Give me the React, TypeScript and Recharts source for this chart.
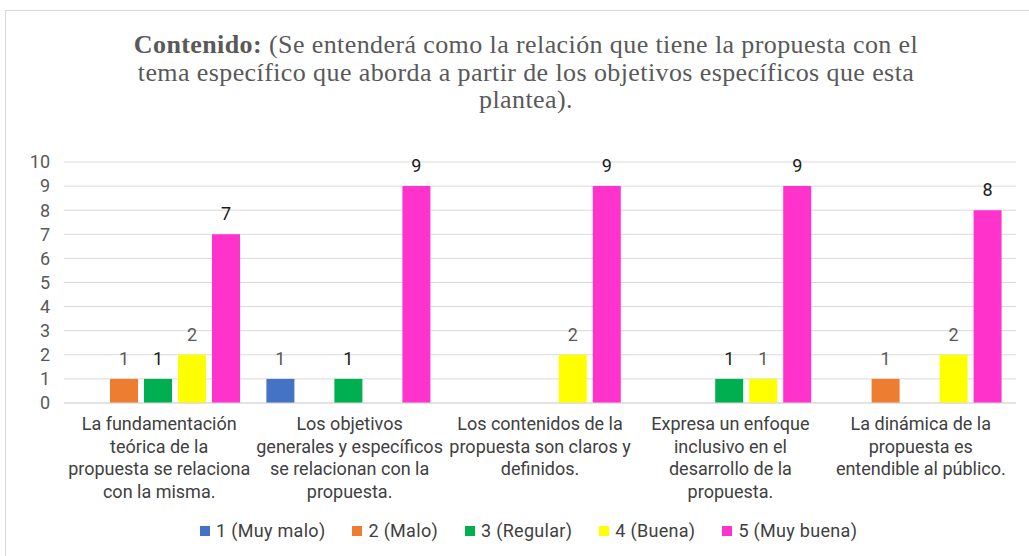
import React from "react";
import {
  Bar,
  BarChart,
  CartesianGrid,
  LabelList,
  XAxis,
  YAxis,
} from "recharts";

const categories = [
  "La fundamentación\nteórica de la\npropuesta se relaciona\ncon la misma.",
  "Los objetivos\ngenerales y específicos\nse relacionan con la\npropuesta.",
  "Los contenidos de la\npropuesta son claros y\ndefinidos.",
  "Expresa un enfoque\ninclusivo en el\ndesarrollo de la\npropuesta.",
  "La dinámica de la\npropuesta es\nentendible al público.",
];

const muyMalo = [0, 1, 0, 0, 0];
const malo = [1, 0, 0, 0, 1];
const regular = [1, 1, 0, 1, 0];
const buena = [2, 0, 2, 1, 2];
const muyBuena = [7, 9, 9, 9, 8];

const yTicks = [0, 1, 2, 3, 4, 5, 6, 7, 8, 9, 10];

const series = [
  { key: "muyMalo", name: "1 (Muy malo)", color: "#4472C4", labelColor: "#595959" },
  { key: "malo", name: "2 (Malo)", color: "#ED7D31", labelColor: "#595959" },
  { key: "regular", name: "3 (Regular)", color: "#00B050", labelColor: "#1a1a1a" },
  { key: "buena", name: "4 (Buena)", color: "#FFFF00", labelColor: "#595959" },
  { key: "muyBuena", name: "5 (Muy buena)", color: "#FF33CC", labelColor: "#1a1a1a" },
];

const data = categories.map((label, i) => ({
  label,
  muyMalo: muyMalo[i],
  malo: malo[i],
  regular: regular[i],
  buena: buena[i],
  muyBuena: muyBuena[i],
}));

const font = "Roboto, 'Liberation Sans', sans-serif";

function CategoryTick(props: any) {
  const { x, payload } = props;
  const lines = String(payload.value).split("\n");
  return (
    <text x={x} y={430} textAnchor="middle" fill="#404040" fontSize={18} fontFamily={font}>
      {lines.map((line, i) => (
        <tspan key={i} x={x} dy={i === 0 ? 0 : 22.6}>
          {line}
        </tspan>
      ))}
    </text>
  );
}

function makeLabel(color: string) {
  return (props: any) => {
    const { x, y, width, value } = props;
    if (!value) return null;
    return (
      <text
        x={Number(x) + Number(width) / 2}
        y={Number(y) - 14}
        textAnchor="middle"
        fill={color}
        fontSize={18}
        fontFamily={font}
      >
        {value}
      </text>
    );
  };
}

export default function App() {
  return (
    <div
      style={{
        position: "absolute",
        left: 0,
        top: 0,
        width: 1029,
        height: 556,
        background: "#fff",
        overflow: "hidden",
      }}
    >
      <div
        style={{
          position: "absolute",
          left: 5,
          top: 10,
          width: 1040,
          height: 570,
          border: "1px solid #d9d9d9",
        }}
      />
      <div
        style={{
          position: "absolute",
          left: 0,
          top: 31,
          width: 1052,
          textAlign: "center",
          fontFamily: "'Liberation Serif', 'Times New Roman', serif",
          fontSize: 26,
          letterSpacing: 0.4,
          lineHeight: "27.5px",
          color: "#595959",
        }}
      >
        <b>Contenido:</b> (Se entenderá como la relación que tiene la propuesta con el
        <br />
        tema específico que aborda a partir de los objetivos específicos que esta
        <br />
        plantea).
      </div>
      <div style={{ position: "absolute", left: 0, top: 0 }}>
        <BarChart
          width={1029}
          height={556}
          data={data}
          margin={{ top: 162, right: 13, bottom: 0, left: 0 }}
          barCategoryGap={12}
          barGap={6}
        >
          <CartesianGrid vertical={false} stroke="#d9d9d9" />
          <XAxis
            dataKey="label"
            height={153}
            interval={0}
            tickLine={false}
            axisLine={{ stroke: "#d9d9d9" }}
            tick={<CategoryTick />}
          />
          <YAxis
            width={64}
            domain={[0, 10]}
            ticks={yTicks}
            interval={0}
            tickLine={false}
            axisLine={false}
            tickMargin={8}
            tick={{ fill: "#595959", fontSize: 18, fontFamily: font }}
          />
          {series.map((s) => (
            <Bar
              key={s.key}
              dataKey={s.key}
              name={s.name}
              fill={s.color}
              isAnimationActive={false}
            >
              <LabelList dataKey={s.key} content={makeLabel(s.labelColor)} />
            </Bar>
          ))}
        </BarChart>
      </div>
      <div
        style={{
          position: "absolute",
          left: 200,
          top: 520,
          display: "flex",
          alignItems: "center",
          fontFamily: font,
          fontSize: 18,
          letterSpacing: 0.3,
          color: "#404040",
          whiteSpace: "nowrap",
        }}
      >
        {series.map((s) => (
          <div key={s.key} style={{ display: "flex", alignItems: "center", marginRight: 27 }}>
            <span
              style={{
                display: "inline-block",
                width: 10,
                height: 10,
                background: s.color,
                marginRight: 6,
              }}
            />
            <span>{s.name}</span>
          </div>
        ))}
      </div>
    </div>
  );
}
